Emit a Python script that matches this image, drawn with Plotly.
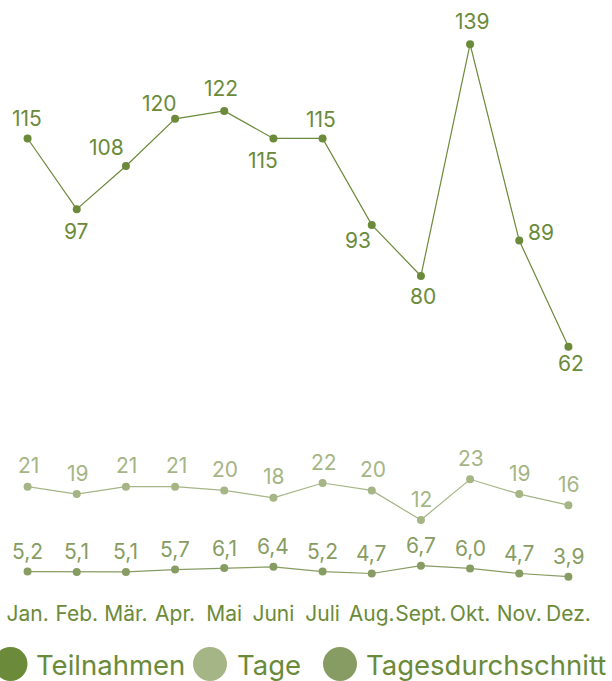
import plotly.graph_objects as go

months = ["Jan.", "Feb.", "Mär.", "Apr.", "Mai", "Juni", "Juli", "Aug.", "Sept.", "Okt.", "Nov.", "Dez."]
teilnahmen = [115, 97, 108, 120, 122, 115, 115, 93, 80, 139, 89, 62]
tage = [21, 19, 21, 21, 20, 18, 22, 20, 12, 23, 19, 16]
tagesdurchschnitt = [5.2, 5.1, 5.1, 5.7, 6.1, 6.4, 5.2, 4.7, 6.7, 6.0, 4.7, 3.9]
series_names = ["Teilnahmen", "Tage", "Tagesdurchschnitt"]

C_T = "#6b8a3a"
C_D = "#a5b585"
C_A = "#879c62"
FONT = "Inter"

W, H = 612, 681
ML, MR, MT, MB = 3, 19, 20, 90
PW = W - ML - MR
PH = H - MT - MB

def fmt_de(v):
    return f"{v:.1f}".replace(".", ",")

fig = go.Figure()
fig.add_trace(go.Scatter(x=months, y=teilnahmen, mode="lines+markers", name=series_names[0],
                         line=dict(color=C_T, width=1.2), marker=dict(size=8, color=C_T),
                         yaxis="y", showlegend=False))
fig.add_trace(go.Scatter(x=months, y=tage, mode="lines+markers", name=series_names[1],
                         line=dict(color=C_D, width=1.2), marker=dict(size=8, color=C_D),
                         yaxis="y2", showlegend=False))
fig.add_trace(go.Scatter(x=months, y=tagesdurchschnitt, mode="lines+markers", name=series_names[2],
                         line=dict(color=C_A, width=1.2), marker=dict(size=8, color=C_A),
                         yaxis="y3", showlegend=False))

# label offsets (style) for Teilnahmen labels: (dx, dy) in px
t_off = [(-1, -20), (0, 22), (-19, -18), (-16, -15), (-3, -22), (-10, 22),
         (-2, -19), (-14, 16), (2, 21), (2, -23), (22, -8), (3, 17)]
LBL = 21
ann = []
for m, v, (dx, dy) in zip(months, teilnahmen, t_off):
    ann.append(dict(x=m, y=v, xref="x", yref="y", text=str(v), showarrow=False,
                    xshift=dx, yshift=-dy, font=dict(family=FONT, size=LBL, color=C_T)))
for m, v in zip(months, tage):
    ann.append(dict(x=m, y=v, xref="x", yref="y2", text=str(v), showarrow=False,
                    xshift=1, yshift=21, font=dict(family=FONT, size=LBL, color=C_D)))
for m, v in zip(months, tagesdurchschnitt):
    ann.append(dict(x=m, y=v, xref="x", yref="y3", text=fmt_de(v), showarrow=False,
                    xshift=0, yshift=20, font=dict(family=FONT, size=LBL, color=C_A)))

# custom legend
def px2paper_x(px):
    return (px - ML) / PW

def px2paper_y(py):
    return (H - MB - py) / PH

shapes = []
leg_items = [(series_names[0], C_T, 10.5, 34), (series_names[1], C_D, 210, 235), (series_names[2], C_A, 340, 364)]
for name, col, cx, tx in leg_items:
    shapes.append(dict(type="circle", xref="paper", yref="paper", xsizemode="pixel", ysizemode="pixel",
                       xanchor=px2paper_x(cx), yanchor=px2paper_y(664), x0=-17, x1=17, y0=-17, y1=17,
                       fillcolor=col, line=dict(width=0)))
    ann.append(dict(x=px2paper_x(tx), y=px2paper_y(665), xref="paper", yref="paper", text=name,
                    showarrow=False, xanchor="left", yanchor="middle",
                    font=dict(family=FONT, size=27.5, color=C_T)))

fig.update_layout(
    width=W, height=H, margin=dict(l=ML, r=MR, t=MT, b=MB, autoexpand=False),
    paper_bgcolor="white", plot_bgcolor="white",
    xaxis=dict(type="category", range=[-0.5, 11.5], showgrid=False, zeroline=False, showline=False,
               automargin=False, tickangle=0,
               ticks="", ticklabelstandoff=8, tickfont=dict(family=FONT, size=21, color=C_T)),
    yaxis=dict(range=[-0.2, 145.16], visible=False, automargin=False),
    yaxis2=dict(range=[-7.19, 147.14], visible=False, overlaying="y", automargin=False),
    yaxis3=dict(range=[0.25, 145.5], visible=False, overlaying="y", automargin=False),
    annotations=ann, shapes=shapes, showlegend=False,
)
fig.write_html("out.html", config={"displayModeBar": False},
               post_script="document.body.style.margin='0';document.body.style.overflow='hidden';")
